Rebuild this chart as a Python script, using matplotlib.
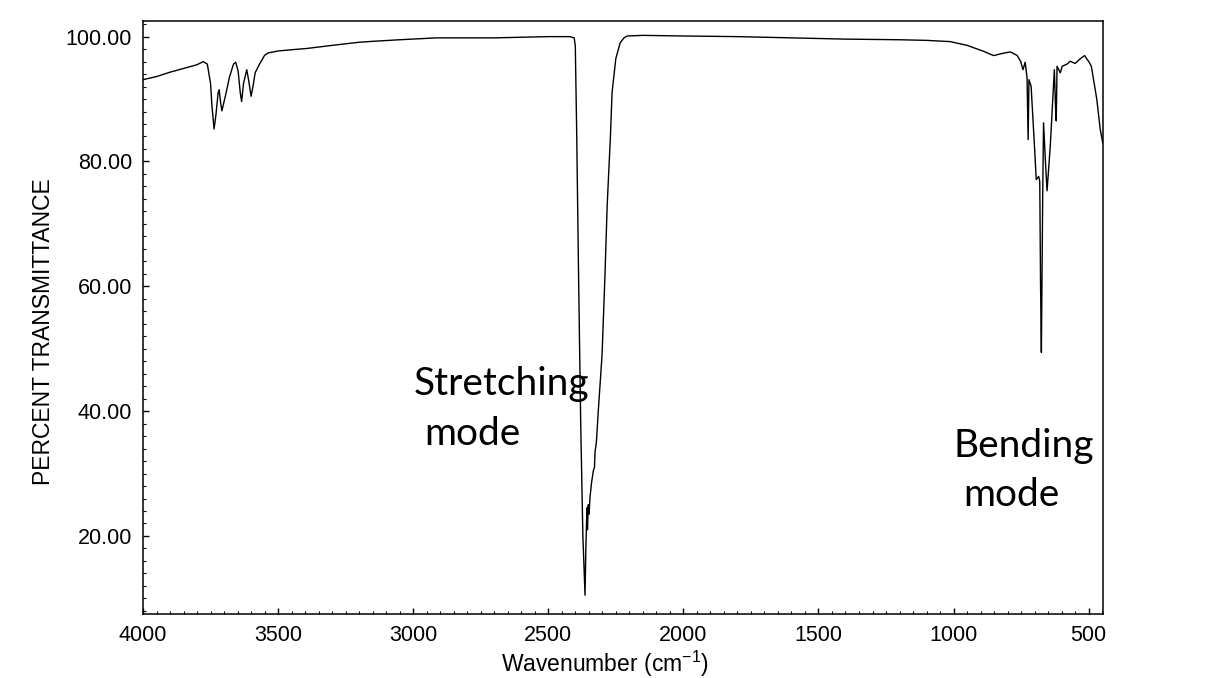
import matplotlib
matplotlib.use("Agg")
import matplotlib.pyplot as plt
from matplotlib.ticker import MultipleLocator, FormatStrFormatter

# IR spectrum of CO2
wavenumber = [4000, 3950, 3900, 3850, 3800, 3777, 3762, 3750, 3745, 3737, 3730,
              3722, 3718, 3713, 3708, 3695, 3680, 3665, 3657, 3648, 3640, 3635,
              3628, 3616, 3609, 3600, 3593, 3585, 3570, 3550, 3536, 3500, 3450,
              3394, 3300, 3200, 3148, 3050, 2913, 2800, 2700, 2600, 2500, 2420,
              2404, 2400, 2395, 2388, 2380, 2372, 2364, 2361, 2357, 2355, 2352,
              2349, 2346, 2340, 2333, 2329, 2327, 2322, 2315, 2301, 2290, 2282,
              2270, 2264, 2250, 2234, 2220, 2208, 2150, 2000, 1800, 1600, 1400,
              1200, 1100, 1012, 950, 889, 852, 820, 790, 765, 752, 743, 735, 728,
              724, 721, 713, 700, 694, 685, 681, 678, 675, 672, 670, 667, 660,
              654, 642, 627, 622, 620, 617, 605, 598, 580, 568, 550, 530, 515,
              505, 500, 490, 470, 457, 448]
transmittance = [93.1, 93.6, 94.3, 94.9, 95.5, 96.0, 95.6, 92.5, 89.0, 85.2, 87.5,
                 91.0, 91.5, 89.5, 88.1, 90.5, 93.5, 95.6, 95.9, 94.5, 91.0, 89.6,
                 92.5, 94.7, 93.0, 90.45, 92.0, 94.2, 95.5, 97.0, 97.4, 97.7, 97.9,
                 98.1, 98.6, 99.1, 99.25, 99.5, 99.8, 99.8, 99.8, 99.9, 100.0, 100.0,
                 99.8, 98.5, 85.0, 62.0, 38.0, 20.0, 10.5, 18.0, 24.5, 21.0, 25.0,
                 23.5, 26.0, 28.5, 30.5, 31.0, 33.5, 35.0, 40.0, 49.0, 62.0, 73.0,
                 84.0, 91.0, 96.5, 99.0, 99.8, 100.1, 100.2, 100.1, 100.0, 99.8, 99.6,
                 99.5, 99.4, 99.2, 98.6, 97.65, 96.96, 97.3, 97.55, 97.0, 96.05, 94.7,
                 95.9, 93.4, 83.5, 93.1, 92.05, 82.0, 77.1, 77.6, 76.85, 60.0, 49.4,
                 65.0, 75.0, 86.2, 80.0, 75.3, 82.5, 94.7, 88.0, 86.5, 95.25, 94.2,
                 95.25, 95.6, 96.05, 95.7, 96.5, 96.96, 96.3, 96.05, 95.25, 90.0,
                 85.1, 83.0]

x_ticks = [4000, 3500, 3000, 2500, 2000, 1500, 1000, 500]
y_ticks = [20, 40, 60, 80, 100]

plt.rcParams['font.family'] = ['Liberation Sans', 'DejaVu Sans']
plt.rcParams['mathtext.default'] = 'regular'

fig = plt.figure(figsize=(12.15, 6.78), dpi=100)
ax = fig.add_axes([0.1177, 0.0944, 0.7901, 0.8746])

ax.plot(wavenumber, transmittance, color='black', linewidth=1.0)

ax.set_xlim(4000, 447)
ax.set_ylim(7.5, 102.5)
ax.set_xticks(x_ticks)
ax.set_yticks(y_ticks)
ax.xaxis.set_minor_locator(MultipleLocator(50))
ax.yaxis.set_minor_locator(MultipleLocator(2))
ax.yaxis.set_major_formatter(FormatStrFormatter('%.2f'))
ax.tick_params(which='both', direction='in', top=False, right=False,
               labelsize=15.5, pad=8)
ax.tick_params(which='major', length=4, width=1)
ax.tick_params(which='minor', length=2, width=0.8)
for s in ax.spines.values():
    s.set_linewidth(1.1)

ax.set_xlabel('Wavenumber (cm$^{-1}$)', fontsize=16.5)
ax.set_ylabel('PERCENT TRANSMITTANCE', fontsize=16.5)
ax.xaxis.set_label_coords(0.481, -0.058)
ax.yaxis.set_label_coords(-0.092, 0.476)

# annotations
note_font = dict(family=['Lato', 'DejaVu Sans'], fontsize=28, color='black',
                 ha='left', va='baseline')
ax.text(3000, 42.6, 'Stretching', **note_font)
ax.text(2960, 34.6, 'mode', **note_font)
ax.text(1002, 32.7, 'Bending', **note_font)
ax.text(965, 24.8, 'mode', **note_font)

fig.savefig('out.png', dpi=100)
